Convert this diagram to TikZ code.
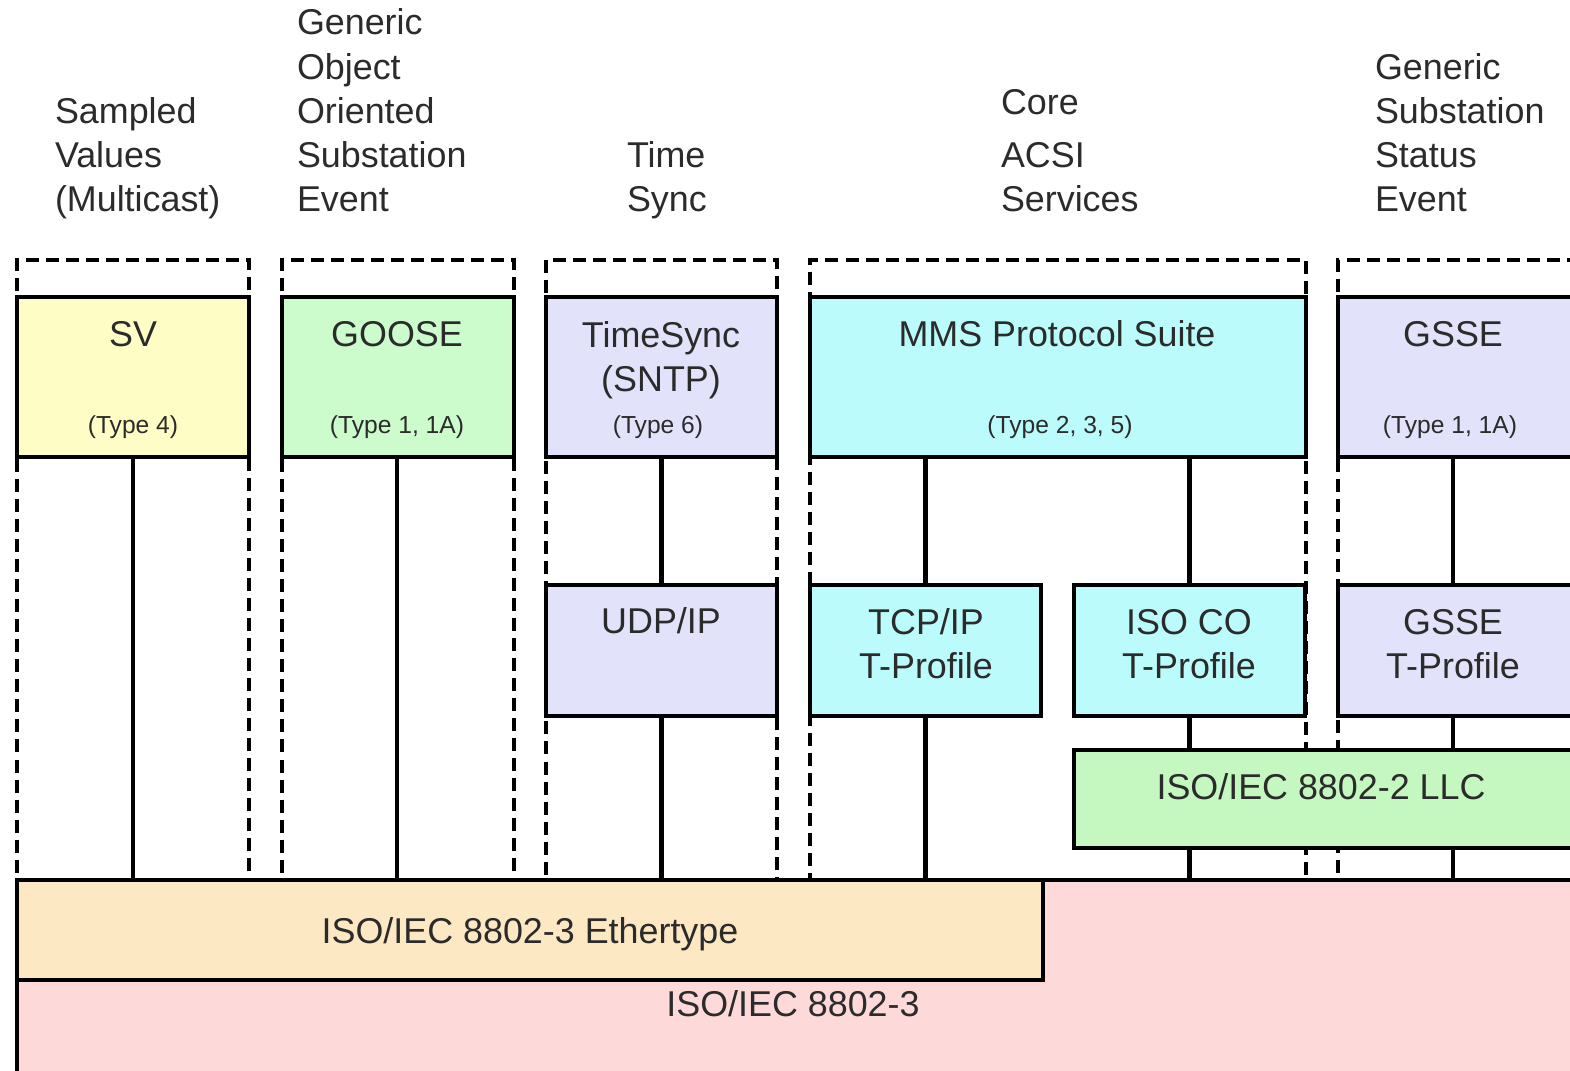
\documentclass[tikz,border=0pt]{standalone}
\usepackage{fontspec}
\setmainfont{Liberation Sans}
\usetikzlibrary{fit}
\definecolor{svY}{HTML}{FEFDC6}
\definecolor{gooseG}{HTML}{CCFCCC}
\definecolor{lav}{HTML}{E2E2FA}
\definecolor{cyanB}{HTML}{BBFBFB}
\definecolor{llcG}{HTML}{C4F8C0}
\definecolor{ethY}{HTML}{FDE8C4}
\definecolor{pinkR}{HTML}{FDD9D9}
\definecolor{txt}{HTML}{2B2B2B}
\begin{document}
\begin{tikzpicture}[x=0.01cm,y=-0.01cm,
  box/.style={draw=black, line width=1.4pt, inner sep=0pt, outer sep=0pt},
  lowbox/.style={box, line width=1.15pt},
  grp/.style={draw=black, line width=1.1pt, dash pattern=on 3.7pt off 2pt, inner sep=0pt, outer sep=0pt},
  conn/.style={draw=black, line width=1.2pt},
  lbl/.style={text=txt, font=\fontsize{10.2}{12.6}\selectfont, inner sep=0pt, outer sep=0pt},
  head/.style={lbl, align=left, anchor=base west},
  ttl/.style={lbl, align=center, anchor=base},
  typ/.style={text=txt, font=\fontsize{7}{8}\selectfont, inner sep=0pt, anchor=base}]
\useasboundingbox (0,0) rectangle (1570,1071);
\clip (0,0) rectangle (1570,1071);

% headings (anchor = baseline of last line)
\node[head] (h1) at (55,212) {Sampled\\Values\\(Multicast)};
\node[head] (h2) at (297,212) {Generic\\Object\\Oriented\\Substation\\Event};
\node[head] (h3) at (627,212) {Time\\Sync};
\node[head] (h4) at (1001,212) {Core\\[2.6pt]ACSI\\Services};
\node[head] (h5) at (1375,212) {Generic\\Substation\\Status\\Event};

% dashed group frames
\node[grp, fit={(17,260) (249,880)}] (g1) {};
\node[grp, fit={(282,260) (514,880)}] (g2) {};
\node[grp, fit={(546,260) (777,880)}] (g3) {};
\node[grp, fit={(810,260) (1306,880)}] (g4) {};
\node[grp, fit={(1338,260) (1600,880)}] (g5) {};

% bottom layers
\node[box, fill=pinkR, fit={(17,880) (1600,1100)}] (e3) {};
\node[box, fill=ethY, fit={(17,880) (1043,980)}] (eth) {};
\node[lbl, anchor=base] (e3t) at (793,1017) {ISO/IEC 8802-3};
\node[lbl, anchor=base] (etht) at (530,944) {ISO/IEC 8802-3 Ethertype};

% top boxes
\node[box, fill=svY, fit={(17,297) (249,457)}] (sv) {};
\node[box, fill=gooseG, fit={(282,297) (514,457)}] (goose) {};
\node[box, fill=lav, fit={(546,297) (777,457)}] (ts) {};
\node[box, fill=cyanB, fit={(810,297) (1306,457)}] (mms) {};
\node[box, fill=lav, fit={(1338,297) (1600,457)}] (gsse) {};

% middle boxes
\node[lowbox, fill=lav, fit={(546,585) (777,716)}] (udp) {};
\node[lowbox, fill=cyanB, fit={(810,585) (1041,716)}] (tcp) {};
\node[lowbox, fill=cyanB, fit={(1074,585) (1305,716)}] (isoco) {};
\node[lowbox, fill=lav, fit={(1338,585) (1600,716)}] (gsset) {};
\node[lowbox, fill=llcG, fit={(1074,750) (1600,848)}] (llc) {};

% connectors
\coordinate (svx) at (133,0);
\coordinate (gox) at (397,0);
\coordinate (gsx) at (1453,0);
\draw[conn] (sv.south -| svx) -- (eth.north -| svx);
\draw[conn] (goose.south -| gox) -- (eth.north -| gox);
\draw[conn] (ts.south) -- (udp.north);
\draw[conn] (udp.south) -- (udp.south |- eth.north);
\draw[conn] (mms.south -| tcp.north) -- (tcp.north);
\draw[conn] (tcp.south) -- (tcp.south |- eth.north);
\draw[conn] (mms.south -| isoco.north) -- (isoco.north);
\draw[conn] (isoco.south) -- (isoco.south |- llc.north);
\draw[conn] (isoco.south |- llc.south) -- (isoco.south |- e3.north);
\draw[conn] (gsse.south -| gsx) -- (gsset.north -| gsx);
\draw[conn] (gsset.south -| gsx) -- (llc.north -| gsx);
\draw[conn] (llc.south -| gsx) -- (e3.north -| gsx);

% box texts (anchor = baseline of last line)
\node[ttl] (svt) at (133,347) {SV};
\node[typ] (svty) at (133,434) {(Type 4)};
\node[ttl] (gooset) at (397,347) {GOOSE};
\node[typ] (goosety) at (397,434) {(Type 1, 1A)};
\node[ttl] (tst) at (661,392) {TimeSync\\(SNTP)};
\node[typ] (tsty) at (658,434) {(Type 6)};
\node[ttl] (mmst) at (1057,347) {MMS Protocol Suite};
\node[typ] (mmsty) at (1060,434) {(Type 2, 3, 5)};
\node[ttl] (gsset1) at (1453,347) {GSSE};
\node[typ] (gssety) at (1450,434) {(Type 1, 1A)};
\node[ttl] (udpt) at (661,634) {UDP/IP};
\node[ttl] (tcpt) at (926,679) {TCP/IP\\T-Profile};
\node[ttl] (isocot) at (1189,679) {ISO CO\\T-Profile};
\node[ttl] (gssett) at (1453,679) {GSSE\\T-Profile};
\node[ttl] (llct) at (1321,800) {ISO/IEC 8802-2 LLC};
\end{tikzpicture}
\end{document}
